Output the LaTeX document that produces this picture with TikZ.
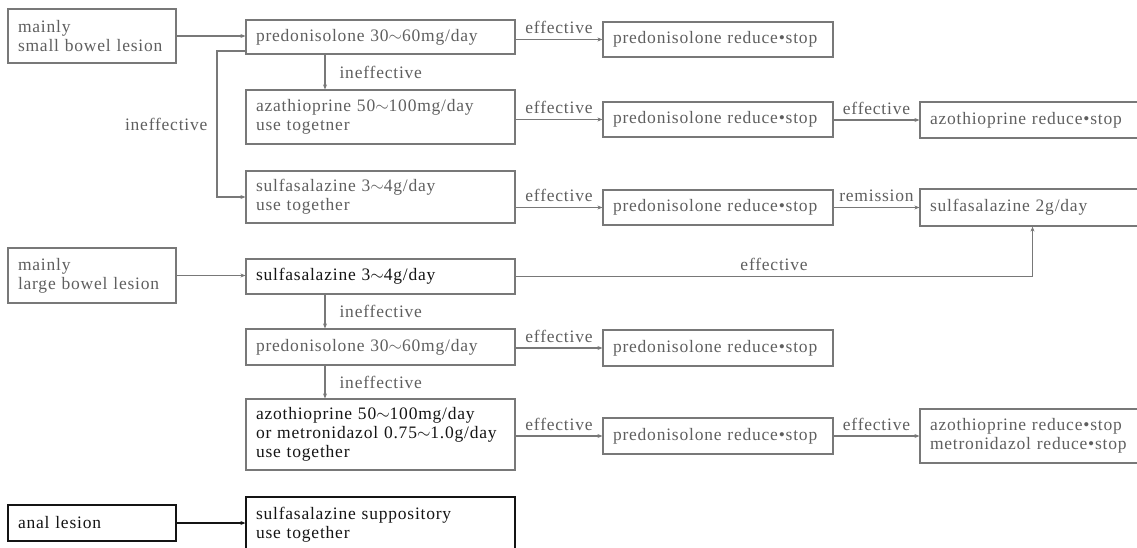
\documentclass[tikz,border=0pt]{standalone}
\usepackage{fontspec}
\setmainfont{Liberation Serif}[LetterSpace=4.5]
\usetikzlibrary{arrows.meta}
\definecolor{txtg}{RGB}{95,95,95}
\definecolor{lng}{RGB}{120,120,120}
\definecolor{txtk}{RGB}{20,20,20}
\newcommand{\tl}{\ensuremath{\sim}}
\begin{document}
\begin{tikzpicture}[x=1pt,y=-1pt,
  box/.style={draw=lng, line width=1.2pt, rectangle, inner xsep=10pt, inner ysep=0pt,
    align=left, text=txtg, font=\fontsize{17.5}{19}\selectfont},
  dark/.style={text=txtk},
  darkbox/.style={draw=txtk, text=txtk},
  wA/.style={minimum width=269pt, text width=249pt},
  wB/.style={minimum width=230pt, text width=210pt},
  wC/.style={minimum width=168pt, text width=148pt},
  wD/.style={minimum width=225pt, text width=205pt},
  arr/.style={draw=lng, line width=1.2pt, -{Stealth[length=5pt,width=4pt]}},
  arrk/.style={arr, draw=txtk},
  lbl/.style={text=txtg, inner sep=0pt, font=\fontsize{17.5}{19}\selectfont}
]
\useasboundingbox (0,0) rectangle (1137,547);

% left column
\node[box, wC, minimum height=54pt] (sb) at (92,36) {mainly\\small~bowel~lesion};
\node[box, wC, minimum height=55pt] (lb) at (92,275.5) {mainly\\large~bowel~lesion};
\node[box, wC, darkbox, minimum height=36pt] (anal) at (92,523) {anal~lesion};

% second column
\node[box, wA, minimum height=34pt] (pred1) at (380.5,37) {predonisolone~30\tl60mg/day};
\node[box, wA, minimum height=54pt] (aza1) at (380.5,117) {azathioprine~50\tl100mg/day\\use~togetner};
\node[box, wA, minimum height=52pt] (sulfa1) at (380.5,197) {sulfasalazine~3\tl4g/day\\use~together};
\node[box, wA, dark, minimum height=35pt] (sulfa4) at (380.5,276.5) {sulfasalazine~3\tl4g/day};
\node[box, wA, minimum height=36pt] (pred5) at (380.5,347) {predonisolone~30\tl60mg/day};
\node[box, wA, dark, minimum height=71pt] (am6) at (380.5,434.5) {azothioprine~50\tl100mg/day\\or~metronidazol~0.75\tl1.0g/day\\use~together};
\node[box, wA, darkbox, minimum height=56pt] (supp) at (380.5,525) {sulfasalazine~suppository\\use~together};

% third column
\node[box, wB, minimum height=35pt] (predred1) at (718,39.5) {predonisolone~reduce•stop};
\node[box, wB, minimum height=35pt] (predred2) at (718,119.5) {predonisolone~reduce•stop};
\node[box, wB, minimum height=35pt] (predred3) at (718,207.5) {predonisolone~reduce•stop};
\node[box, wB, minimum height=36pt] (predred5) at (718,348) {predonisolone~reduce•stop};
\node[box, wB, minimum height=36pt] (predred6) at (718,436) {predonisolone~reduce•stop};

% fourth column
\node[box, wD, minimum height=36pt] (azored) at (1032.5,120) {azothioprine~reduce•stop};
\node[box, wD, minimum height=37pt] (s2g) at (1032.5,207.5) {sulfasalazine~2g/day};
\node[box, wD, minimum height=54pt] (azm) at (1032.5,436) {azothioprine~reduce•stop\\metronidazol~reduce•stop};

\coordinate (vx) at (325,0);
\coordinate (lx) at (217,51);

% small bowel
\draw[arr] (sb.east) -- (sb.east -| pred1.west);
\draw[arr] (pred1.east |- predred1.west) -- (predred1.west) node[lbl, midway, above=5pt] {effective};
\draw[arr] (vx |- pred1.south) -- (vx |- aza1.north) node[lbl, midway, right=14pt] {ineffective};
\draw[arr] (pred1.west |- lx) -- (lx) -- node[lbl, left=9pt] {ineffective} (lx |- sulfa1.west) -- (sulfa1.west);
\draw[arr] (aza1.east |- predred2.west) -- (predred2.west) node[lbl, midway, above=5pt] {effective};
\draw[arr] (predred2.east |- azored.west) -- (azored.west) node[lbl, midway, above=5pt] {effective};
\draw[arr] (sulfa1.east |- predred3.west) -- (predred3.west) node[lbl, midway, above=5pt] {effective};
\draw[arr] (predred3.east |- s2g.west) -- (s2g.west) node[lbl, midway, above=5pt] {remission};

% large bowel
\draw[arr] (lb.east) -- (lb.east -| sulfa4.west);
\draw[arr] (sulfa4.east) -- (sulfa4.east -| s2g.south) node[lbl, midway, above=5pt] {effective} -- (s2g.south);
\draw[arr] (vx |- sulfa4.south) -- (vx |- pred5.north) node[lbl, midway, right=14pt] {ineffective};
\draw[arr] (pred5.east |- predred5.west) -- (predred5.west) node[lbl, midway, above=5pt] {effective};
\draw[arr] (vx |- pred5.south) -- (vx |- am6.north) node[lbl, midway, right=14pt] {ineffective};
\draw[arr] (am6.east |- predred6.west) -- (predred6.west) node[lbl, midway, above=5pt] {effective};
\draw[arr] (predred6.east |- azm.west) -- (azm.west) node[lbl, midway, above=5pt] {effective};

% anal
\draw[arrk] (anal.east) -- (anal.east -| supp.west);
\end{tikzpicture}
\end{document}
